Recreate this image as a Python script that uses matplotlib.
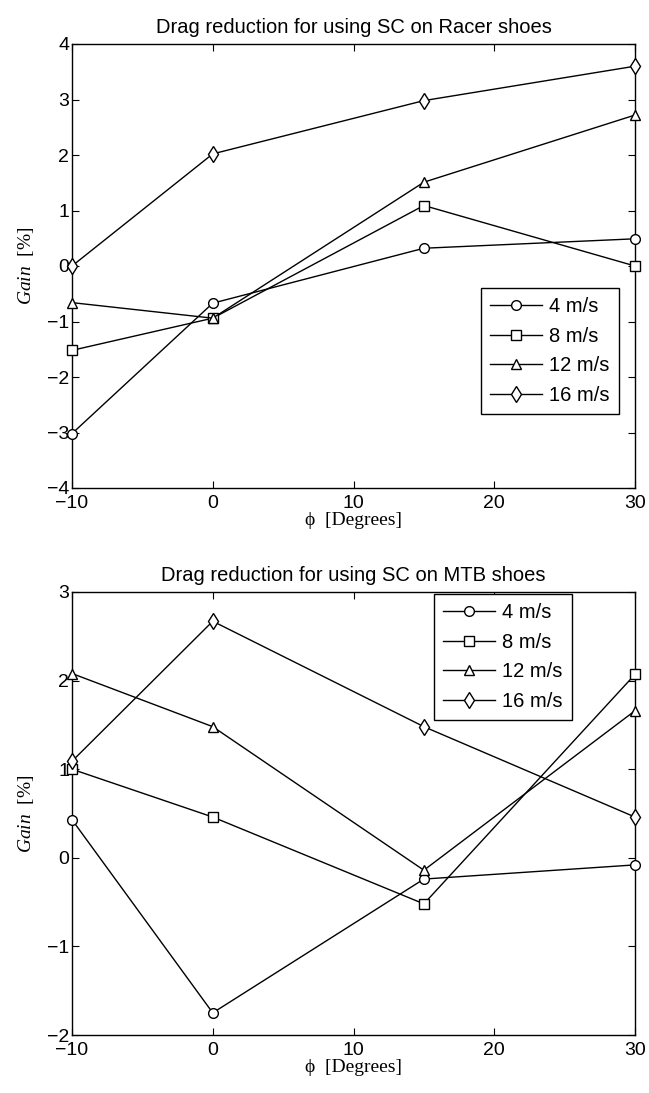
import numpy as np
import matplotlib
matplotlib.use("Agg")
import matplotlib.pyplot as plt

plt.rcParams['font.family'] = ['Liberation Sans', 'DejaVu Sans']
plt.rcParams['mathtext.fontset'] = 'custom'
plt.rcParams['mathtext.it'] = 'Liberation Serif:italic'
plt.rcParams['mathtext.rm'] = 'Liberation Serif'

phi = [-10, 0, 15, 30]
speeds = ['4 m/s', '8 m/s', '12 m/s', '16 m/s']
markers = ['o', 's', '^', 'd']

racer = {
    '4 m/s': [-3.02, -0.67, 0.32, 0.49],
    '8 m/s': [-1.52, -0.94, 1.09, 0.0],
    '12 m/s': [-0.66, -0.94, 1.51, 2.72],
    '16 m/s': [0.0, 2.02, 2.98, 3.60],
}
mtb = {
    '4 m/s': [0.43, -1.75, -0.24, -0.08],
    '8 m/s': [1.0, 0.46, -0.52, 2.07],
    '12 m/s': [2.08, 1.48, -0.14, 1.66],
    '16 m/s': [1.09, 2.67, 1.48, 0.46],
}

fig = plt.figure(figsize=(6.49, 10.93), dpi=100)
W, H = 649, 1093

def make_axes(top, bottom):
    left, right = 72, 635
    return fig.add_axes([left / W, 1 - bottom / H, (right - left) / W, (bottom - top) / H])

ax1 = make_axes(44, 488)
ax2 = make_axes(592, 1035)

def minus(v):
    return str(v).replace('-', '\u2212')

def draw(ax, data, title, ylim, yticks, legend_box):
    for s, m in zip(speeds, markers):
        ms = 8 if m == 'd' else 7
        ax.plot(phi, data[s], color='black', lw=1.0, marker=m,
                markersize=ms, markerfacecolor='white', markeredgecolor='black',
                markeredgewidth=1.0, label=s, clip_on=False, zorder=3)
    xt = [-10, 0, 10, 20, 30]
    ax.set_xlim(-10, 30)
    ax.set_ylim(*ylim)
    ax.set_xticks(xt)
    ax.set_yticks(yticks)
    ax.set_yticklabels([minus(t) for t in yticks])
    ax.set_xticklabels([minus(t) for t in xt])
    ax.tick_params(direction='in', top=True, right=True, length=5, width=0.8,
                   labelsize=14, pad=2)
    ax.tick_params(axis='x', pad=5)
    for sp in ax.spines.values():
        sp.set_linewidth(1.0)
    ax.set_title(title, fontsize=14.5, pad=8)
    ax.set_xlabel('ϕ  [Degrees]', family=['Liberation Serif', 'DejaVu Serif'],
                  fontsize=14, labelpad=0)
    ax.set_ylabel(r'$\mathit{Gain}$  [%]', family=['Liberation Serif', 'DejaVu Serif'],
                  fontsize=14, labelpad=8)
    leg = ax.legend(loc='upper left', bbox_to_anchor=legend_box, fontsize=14.5,
                    handlelength=2.6, handletextpad=0.35, labelspacing=0.52,
                    borderpad=0.45, borderaxespad=0, fancybox=False,
                    edgecolor='black', framealpha=1)
    leg.get_frame().set_linewidth(1.0)

draw(ax1, racer, 'Drag reduction for using SC on Racer shoes', (-4, 4),
     [-4, -3, -2, -1, 0, 1, 2, 3, 4], (0.726, 0.45))
draw(ax2, mtb, 'Drag reduction for using SC on MTB shoes', (-2, 3),
     [-2, -1, 0, 1, 2, 3], (0.643, 0.995))

fig.savefig('out.png', dpi=100)
